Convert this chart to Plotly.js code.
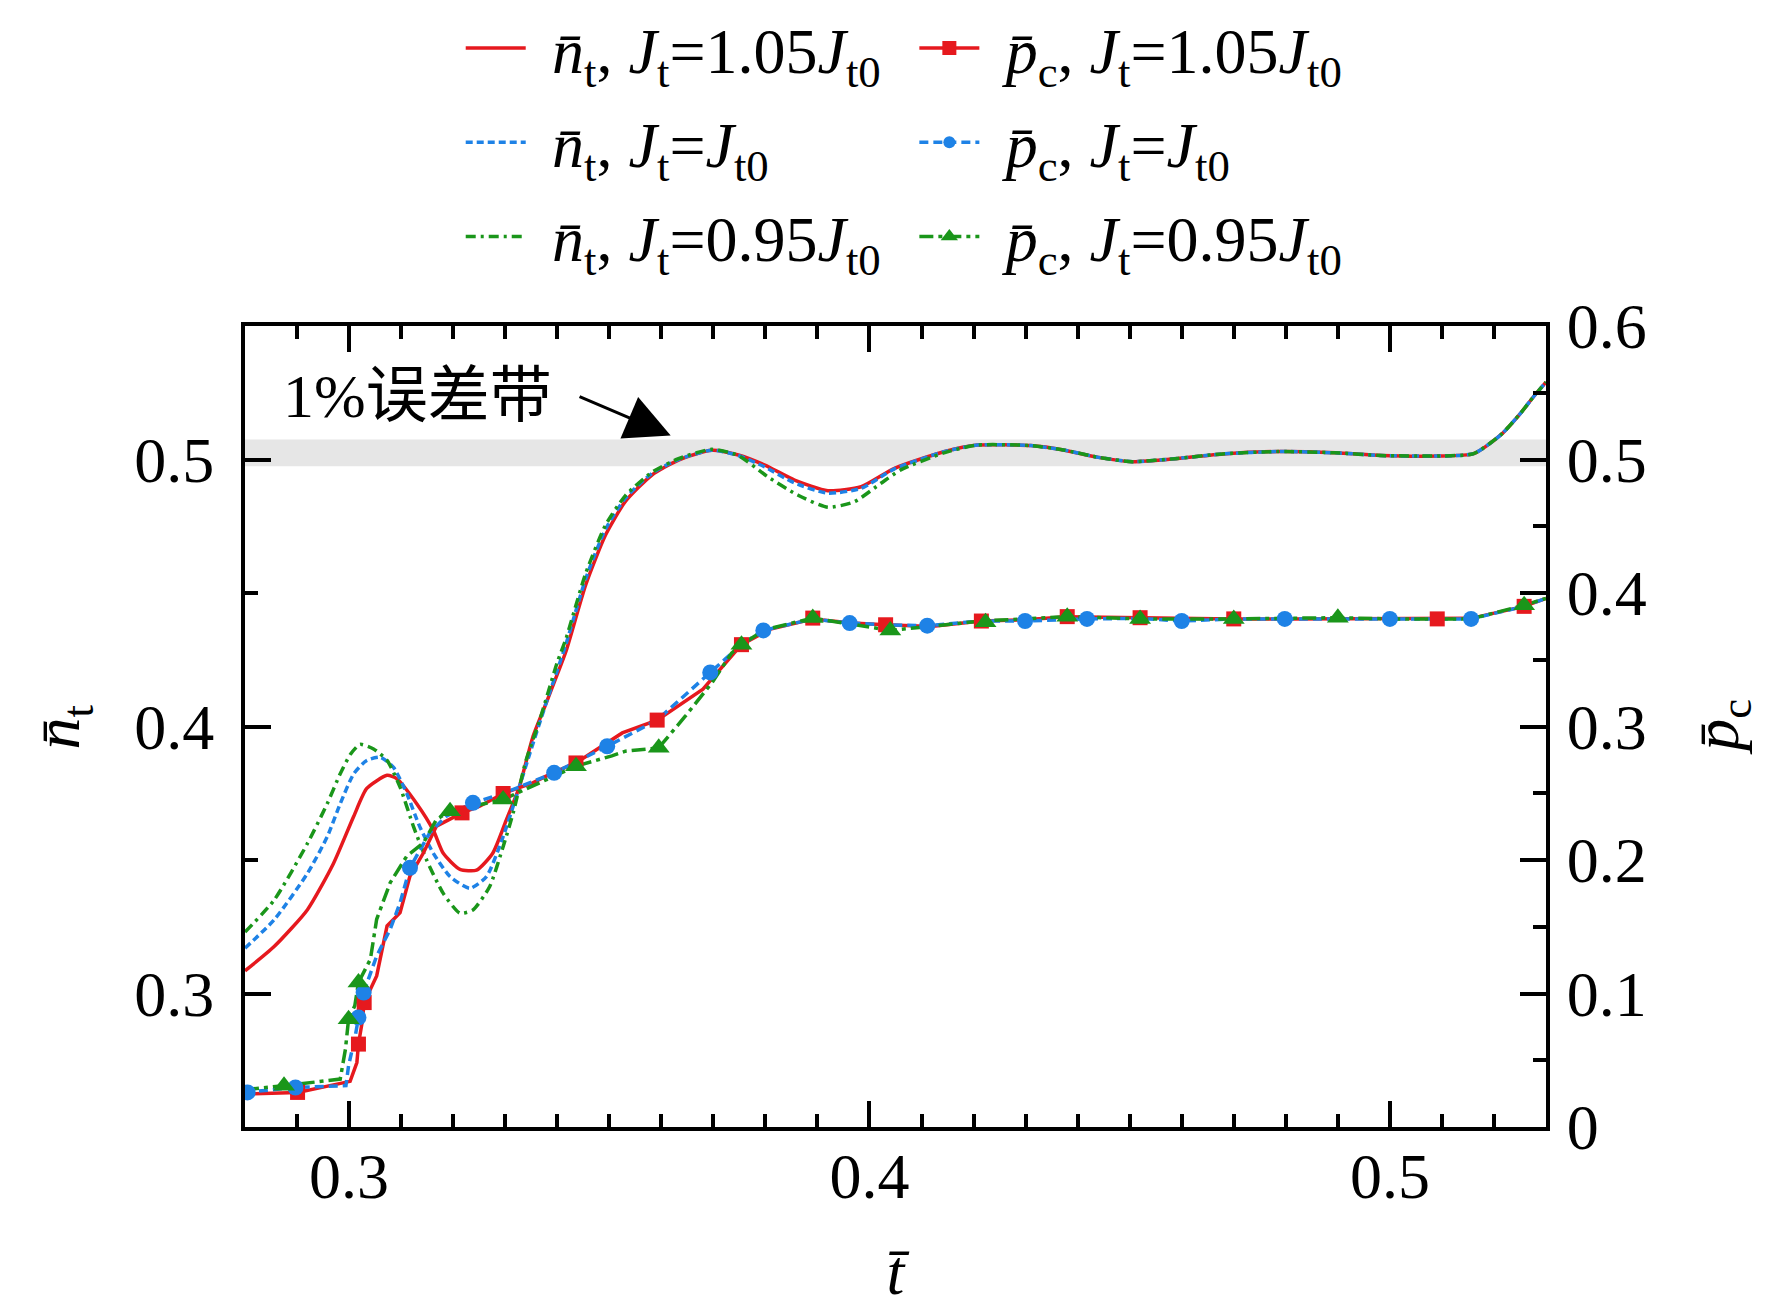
<!DOCTYPE html>
<html>
<head>
<meta charset="utf-8">
<script src="https://cdn.plot.ly/plotly-3.0.1.min.js"></script>
<style>body{margin:0;background:#fff}</style>
</head>
<body>
<div id="chart" style="width:1772px;height:1315px"></div>
<script>
// n_t curves (left axis)
var nX105 = [0.28, 0.2856, 0.292, 0.297, 0.3009, 0.3034, 0.3073, 0.3092, 0.313, 0.3162, 0.3181, 0.3213, 0.3245, 0.3276, 0.3302, 0.3327, 0.3353, 0.3378, 0.34, 0.3417, 0.3455, 0.3493, 0.3531, 0.3582, 0.3633, 0.3697, 0.3748, 0.3799, 0.3856, 0.392, 0.3984, 0.4048, 0.4143, 0.4207, 0.431, 0.4375, 0.444, 0.4505, 0.4592, 0.4679, 0.4787, 0.4896, 0.4983, 0.5091, 0.5161, 0.5213, 0.5251, 0.5276, 0.53];
var nY105 = [0.3085, 0.3176, 0.3314, 0.3487, 0.3664, 0.3768, 0.3817, 0.3804, 0.3711, 0.3611, 0.3525, 0.3465, 0.3462, 0.3525, 0.3649, 0.3773, 0.396, 0.4084, 0.4195, 0.4283, 0.4532, 0.4718, 0.4843, 0.4942, 0.4998, 0.5035, 0.5017, 0.4979, 0.4923, 0.4883, 0.4898, 0.4967, 0.5029, 0.5054, 0.5052, 0.5035, 0.5008, 0.4992, 0.5004, 0.5021, 0.503, 0.5025, 0.5015, 0.5013, 0.5022, 0.5092, 0.5173, 0.5235, 0.529];

var nX100 = [0.28, 0.2856, 0.292, 0.2958, 0.2983, 0.3009, 0.3034, 0.306, 0.3085, 0.3111, 0.3136, 0.3162, 0.3194, 0.3232, 0.3264, 0.3296, 0.3321, 0.3347, 0.3378, 0.34, 0.3417, 0.3455, 0.3493, 0.3531, 0.3582, 0.3633, 0.3697, 0.3748, 0.3799, 0.3856, 0.392, 0.3984, 0.4048, 0.4143, 0.4207, 0.431, 0.4375, 0.444, 0.4505, 0.4592, 0.4679, 0.4787, 0.4896, 0.4983, 0.5091, 0.5161, 0.5213, 0.5251, 0.5276, 0.53];
var nY100 = [0.317, 0.3276, 0.345, 0.3587, 0.3711, 0.3823, 0.3873, 0.3885, 0.3848, 0.3748, 0.3624, 0.3525, 0.3438, 0.3394, 0.3438, 0.3587, 0.3736, 0.3897, 0.4084, 0.421, 0.431, 0.4555, 0.474, 0.4855, 0.4948, 0.5, 0.5035, 0.5015, 0.4972, 0.4912, 0.4874, 0.4892, 0.4965, 0.5029, 0.5054, 0.5052, 0.5035, 0.5008, 0.4992, 0.5004, 0.5021, 0.503, 0.5025, 0.5015, 0.5013, 0.5022, 0.5092, 0.5173, 0.5235, 0.529];

var nX095 = [0.28, 0.2856, 0.292, 0.2958, 0.2983, 0.3003, 0.3021, 0.3047, 0.3073, 0.3098, 0.3124, 0.3149, 0.3181, 0.3213, 0.3238, 0.327, 0.3296, 0.3315, 0.334, 0.3366, 0.34, 0.3417, 0.3455, 0.3493, 0.3531, 0.3582, 0.3633, 0.3697, 0.3748, 0.3804, 0.3862, 0.392, 0.3971, 0.4022, 0.406, 0.4143, 0.4207, 0.431, 0.4375, 0.444, 0.4505, 0.4592, 0.4679, 0.4787, 0.4896, 0.4983, 0.5091, 0.5161, 0.5213, 0.5251, 0.5276, 0.53];
var nY095 = [0.323, 0.335, 0.3562, 0.3711, 0.3823, 0.3897, 0.3933, 0.3916, 0.3873, 0.3773, 0.3624, 0.35, 0.3375, 0.3301, 0.3313, 0.34, 0.355, 0.3674, 0.3873, 0.4022, 0.424, 0.433, 0.4575, 0.4755, 0.4865, 0.4952, 0.5003, 0.5038, 0.5015, 0.4936, 0.4867, 0.4821, 0.4842, 0.4911, 0.4961, 0.5025, 0.5054, 0.5052, 0.5035, 0.5008, 0.4992, 0.5004, 0.5021, 0.503, 0.5025, 0.5015, 0.5013, 0.5022, 0.5092, 0.5173, 0.5235, 0.529];

// p_c curves (right axis)
var pX105 = [0.28, 0.2901, 0.3002, 0.3015, 0.3018, 0.3025, 0.3029, 0.3053, 0.3073, 0.3098, 0.3117, 0.3143, 0.3168, 0.3217, 0.3251, 0.3296, 0.3353, 0.3391, 0.3436, 0.3525, 0.3592, 0.368, 0.3754, 0.381, 0.3891, 0.3966, 0.4031, 0.4118, 0.4215, 0.4299, 0.438, 0.452, 0.46, 0.47, 0.48, 0.49, 0.5, 0.5091, 0.5156, 0.5258, 0.53];
var pY105 = [0.0246, 0.0259, 0.0342, 0.0483, 0.0621, 0.0782, 0.0932, 0.1132, 0.1506, 0.1606, 0.188, 0.2054, 0.2254, 0.2353, 0.2403, 0.2498, 0.2578, 0.2653, 0.2727, 0.2952, 0.3048, 0.328, 0.3613, 0.373, 0.3805, 0.3775, 0.3762, 0.375, 0.379, 0.38, 0.3823, 0.3815, 0.3806, 0.3806, 0.3806, 0.3806, 0.3806, 0.3806, 0.381, 0.39, 0.396];
var pMX105 = [0.2901, 0.3018, 0.3029, 0.3217, 0.3296, 0.3436, 0.3592, 0.3754, 0.3891, 0.4031, 0.4215, 0.438, 0.452, 0.47, 0.5091, 0.5258];
var pMY105 = [0.0259, 0.0621, 0.0932, 0.2353, 0.2498, 0.2727, 0.3048, 0.3613, 0.3812, 0.3762, 0.379, 0.3823, 0.3815, 0.3806, 0.3806, 0.39];

var pX100 = [0.28, 0.2897, 0.2994, 0.2999, 0.3012, 0.3018, 0.3028, 0.3053, 0.3079, 0.3098, 0.3117, 0.3155, 0.3187, 0.3238, 0.3296, 0.3394, 0.3496, 0.3592, 0.3694, 0.3754, 0.3796, 0.3891, 0.3962, 0.4031, 0.4111, 0.4215, 0.4299, 0.4418, 0.452, 0.46, 0.47, 0.4798, 0.49, 0.5, 0.5091, 0.5156, 0.5258, 0.53];
var pY100 = [0.0259, 0.0296, 0.031, 0.0459, 0.0683, 0.082, 0.1007, 0.1281, 0.1481, 0.168, 0.1942, 0.2204, 0.2329, 0.2428, 0.2498, 0.2653, 0.2852, 0.3048, 0.3405, 0.3613, 0.372, 0.3805, 0.3775, 0.3762, 0.3755, 0.379, 0.379, 0.3806, 0.381, 0.379, 0.3806, 0.3806, 0.3806, 0.3806, 0.3806, 0.3806, 0.39, 0.396];
var pMX100 = [0.2805, 0.2897, 0.3018, 0.3028, 0.3117, 0.3238, 0.3394, 0.3496, 0.3694, 0.3796, 0.3962, 0.4111, 0.4299, 0.4418, 0.46, 0.4798, 0.5, 0.5156];
var pMY100 = [0.0259, 0.0296, 0.082, 0.1007, 0.1942, 0.2428, 0.2653, 0.2852, 0.3405, 0.372, 0.3775, 0.3755, 0.379, 0.3806, 0.379, 0.3806, 0.3806, 0.3806];

var pX095 = [0.28, 0.2875, 0.2983, 0.2993, 0.2999, 0.3011, 0.3018, 0.3041, 0.3053, 0.3079, 0.3111, 0.3143, 0.3168, 0.3194, 0.3296, 0.3436, 0.3505, 0.3531, 0.3595, 0.3646, 0.3697, 0.3735, 0.3754, 0.3799, 0.3891, 0.3966, 0.404, 0.4118, 0.4215, 0.438, 0.452, 0.47, 0.49, 0.5, 0.5156, 0.5258, 0.53];
var pY095 = [0.028, 0.0309, 0.0359, 0.0583, 0.0807, 0.0908, 0.1082, 0.1257, 0.1556, 0.183, 0.203, 0.2129, 0.2304, 0.2366, 0.2453, 0.2703, 0.278, 0.2815, 0.284, 0.3077, 0.3326, 0.355, 0.3613, 0.3725, 0.3812, 0.3765, 0.372, 0.375, 0.379, 0.3823, 0.3806, 0.3806, 0.3815, 0.3806, 0.3806, 0.3908, 0.396];
var pMX095 = [0.2875, 0.2999, 0.3018, 0.3194, 0.3296, 0.3436, 0.3595, 0.3754, 0.3891, 0.404, 0.4223, 0.438, 0.452, 0.47, 0.49, 0.5258];
var pMY095 = [0.0309, 0.0807, 0.1082, 0.2366, 0.2453, 0.2703, 0.284, 0.3613, 0.3812, 0.372, 0.378, 0.3823, 0.3806, 0.3806, 0.3815, 0.3908];

var bandLow = 0.4975, bandHigh = 0.5075;

var SP = '\u2004';
var nNames = [
  SP + '<i>n\u0304</i><sub>t</sub>, <i>J</i><sub>t</sub>=1.05<i>J</i><sub>t0</sub>',
  SP + '<i>n\u0304</i><sub>t</sub>, <i>J</i><sub>t</sub>=<i>J</i><sub>t0</sub>',
  SP + '<i>n\u0304</i><sub>t</sub>, <i>J</i><sub>t</sub>=0.95<i>J</i><sub>t0</sub>'
];
var pNames = [
  SP + '<i>p\u0304</i><sub>c</sub>, <i>J</i><sub>t</sub>=1.05<i>J</i><sub>t0</sub>',
  SP + '<i>p\u0304</i><sub>c</sub>, <i>J</i><sub>t</sub>=<i>J</i><sub>t0</sub>',
  SP + '<i>p\u0304</i><sub>c</sub>, <i>J</i><sub>t</sub>=0.95<i>J</i><sub>t0</sub>'
];

var FONT = 'Liberation Serif, Times New Roman, serif';
var RED = '#e6191e', BLUE = '#1e82e6', GREEN = '#1a961a';

function nTrace(x, y, name, color, dash, grp) {
  return {x: x, y: y, name: name, mode: 'lines', yaxis: 'y', legend: 'legend', legendgroup: grp,
    line: {color: color, width: 3.5, dash: dash, shape: 'spline', smoothing: 0.6}};
}
function pLine(x, y, color, dash) {
  return {x: x, y: y, mode: 'lines', yaxis: 'y2', showlegend: false, hoverinfo: 'skip',
    line: {color: color, width: 3.5, dash: dash}};
}
function pMarks(x, y, color, symbol, size) {
  return {x: x, y: y, mode: 'markers', yaxis: 'y2', showlegend: false,
    marker: {color: color, symbol: symbol, size: size}};
}
function pLegend(name, color, dash, symbol, size, grp) {
  return {x: [null], y: [null], name: name, mode: 'lines+markers', yaxis: 'y2', legend: 'legend2', legendgroup: grp,
    line: {color: color, width: 3.5, dash: dash}, marker: {color: color, symbol: symbol, size: size}};
}

var data = [
  nTrace(nX105, nY105, nNames[0], RED, 'solid', 'a'),
  nTrace(nX100, nY100, nNames[1], BLUE, '7px,4px', 'b'),
  nTrace(nX095, nY095, nNames[2], GREEN, '10px,5px,3px,5px', 'c'),
  pLine(pX105, pY105, RED, 'solid'),
  pLine(pX100, pY100, BLUE, '9px,5px'),
  pLine(pX095, pY095, GREEN, '14px,5px,4px,5px'),
  pMarks(pMX105, pMY105, RED, 'square', 15),
  pMarks(pMX100, pMY100, BLUE, 'circle', 16),
  pMarks(pMX095, pMY095, GREEN, 'triangle-up', 19),
  pLegend(pNames[0], RED, 'solid', 'square', 14, 'd'),
  pLegend(pNames[1], BLUE, '9px,5px', 'circle', 12, 'e'),
  pLegend(pNames[2], GREEN, '14px,5px,4px,5px', 'triangle-up', 15, 'f')
];

var axisBase = {
  showgrid: false, zeroline: false, showline: true, linecolor: '#000', linewidth: 4,
  ticks: 'inside', ticklen: 26, tickwidth: 4, tickcolor: '#000', automargin: false,
  tickfont: {family: FONT, size: 64, color: '#000'}
};

var legendBase = {
  xref: 'container', yref: 'container', xanchor: 'left', yanchor: 'top',
  font: {family: FONT, size: 64, color: '#000'}, itemwidth: 60,
  bgcolor: 'rgba(0,0,0,0)', tracegroupgap: 8, traceorder: 'grouped'
};

var layout = {
  width: 1772, height: 1315,
  margin: {l: 245, r: 226, t: 326, b: 188, autoexpand: false},
  paper_bgcolor: '#fff', plot_bgcolor: '#fff',
  font: {family: FONT, color: '#000'},
  showlegend: true,
  xaxis: Object.assign({}, axisBase, {
    range: [0.28, 0.53], tick0: 0, dtick: 0.1, mirror: 'ticks', ticklabelstandoff: -10,
    minor: {dtick: 0.01, ticks: 'inside', ticklen: 13, tickwidth: 4, tickcolor: '#000'},
    title: {text: '<i>t\u0304</i>', font: {family: FONT, size: 64}, standoff: 39}
  }),
  yaxis: Object.assign({}, axisBase, {
    range: [0.25, 0.55], tick0: 0, dtick: 0.1, ticklabelstandoff: 14,
    minor: {dtick: 0.05, ticks: 'inside', ticklen: 13, tickwidth: 4, tickcolor: '#000'}
  }),
  yaxis2: Object.assign({}, axisBase, {
    overlaying: 'y', side: 'right', range: [0, 0.6], tick0: 0, dtick: 0.1, ticklabelstandoff: 4,
    minor: {dtick: 0.05, ticks: 'inside', ticklen: 13, tickwidth: 4, tickcolor: '#000'}
  }),
  legend: Object.assign({}, legendBase, {x: 0.26, y: 1.01}),
  legend2: Object.assign({}, legendBase, {x: 0.516, y: 1.01}),
  shapes: [{
    type: 'rect', xref: 'paper', x0: 0, x1: 1, yref: 'y', y0: bandLow, y1: bandHigh,
    fillcolor: '#e6e6e6', line: {width: 0}, layer: 'below'
  }],
  annotations: [
    {x: -0.1407, y: 0.5, xref: 'paper', yref: 'paper', text: '<i>n\u0304</i><sub>t</sub>', textangle: -90,
     showarrow: false, xanchor: 'center', yanchor: 'middle', font: {family: FONT, size: 64, color: '#000'}},
    {x: 1.134, y: 0.5, xref: 'paper', yref: 'paper', text: '<i>p\u0304</i><sub>c</sub>', textangle: -90,
     showarrow: false, xanchor: 'center', yanchor: 'middle', font: {family: FONT, size: 64, color: '#000'}},
    {x: 0.3131, y: 0.5238, xref: 'x', yref: 'y', text: '1%误差带', showarrow: false,
     xanchor: 'center', yanchor: 'middle',
     font: {family: 'Liberation Serif, Noto Sans CJK SC, serif', size: 62, color: '#000'}},
    {x: 0.3618, y: 0.509, xref: 'x', yref: 'y', ax: 0.344, ay: 0.5238, axref: 'x', ayref: 'y',
     text: '', showarrow: true, arrowhead: 2, arrowsize: 3, arrowwidth: 3, arrowcolor: '#000',
     standoff: 0, startstandoff: 0}
  ]
};

Plotly.newPlot('chart', data, layout, {displayModeBar: false, staticPlot: true});
</script>
</body>
</html>
